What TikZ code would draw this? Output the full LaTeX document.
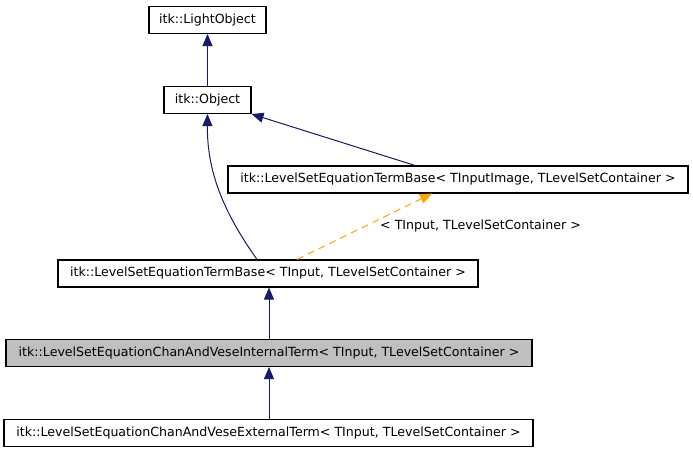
\documentclass[tikz,border=0pt]{standalone}
\usepackage{fontspec}
\setmainfont{DejaVu Sans}
\usetikzlibrary{arrows.meta}
\definecolor{edgeblue}{HTML}{191970}
\definecolor{boxgray}{HTML}{BFBFBF}
\definecolor{tmplorange}{HTML}{FFA500}
\begin{document}
\begin{tikzpicture}[x=1bp,y=-1bp,
  cls/.style={draw=black,line width=1.1bp,inner sep=0pt,minimum height=27bp,font=\fontsize{12.6bp}{14bp}\selectfont},
  inh/.style={draw=edgeblue,line width=1bp,-{Triangle[length=12bp,width=10bp]},fill=none},
  tmpl/.style={draw=tmplorange,line width=1bp,dash pattern=on 7bp off 5bp,-{Triangle[length=12bp,width=10bp,fill=tmplorange]}},
  lbl/.style={font=\fontsize{12.6bp}{14bp}\selectfont,inner sep=0pt}]
\useasboundingbox (0,0) rectangle (693,453);
\node[cls,minimum width=117bp] (LO) at (207.5,20) {itk::LightObject};
\node[cls,minimum width=87bp] (Obj) at (207.5,100) {itk::Object};
\node[cls,minimum width=460bp] (TBI) at (458,179.5) {itk::LevelSetEquationTermBase< TInputImage, TLevelSetContainer >};
\node[cls,minimum width=420bp] (TB) at (268,273.5) {itk::LevelSetEquationTermBase< TInput, TLevelSetContainer >};
\node[cls,fill=boxgray,minimum width=526bp] (Int) at (269,353) {itk::LevelSetEquationChanAndVeseInternalTerm< TInput, TLevelSetContainer >};
\node[cls,minimum width=529bp] (Ext) at (268.5,433) {itk::LevelSetEquationChanAndVeseExternalTerm< TInput, TLevelSetContainer >};
\draw[inh] (Obj.north) -- (LO.south);
\draw[inh] ([xshift=-43bp]TBI.north) -- (Obj.south east);
\draw[inh] ([xshift=-11bp]TB.north) .. controls (222,210) and (207,170) .. (Obj.south);
\draw[tmpl] ([xshift=29bp]TB.north) -- ([xshift=-26bp]TBI.south);
\node[lbl,anchor=west] (L) at (380,226.5) {< TInput, TLevelSetContainer >};
\draw[inh] (Int.north) -- (Int.north |- TB.south);
\draw[inh] (Ext.north -| Int.north) -- (Int.south);
\end{tikzpicture}
\end{document}
